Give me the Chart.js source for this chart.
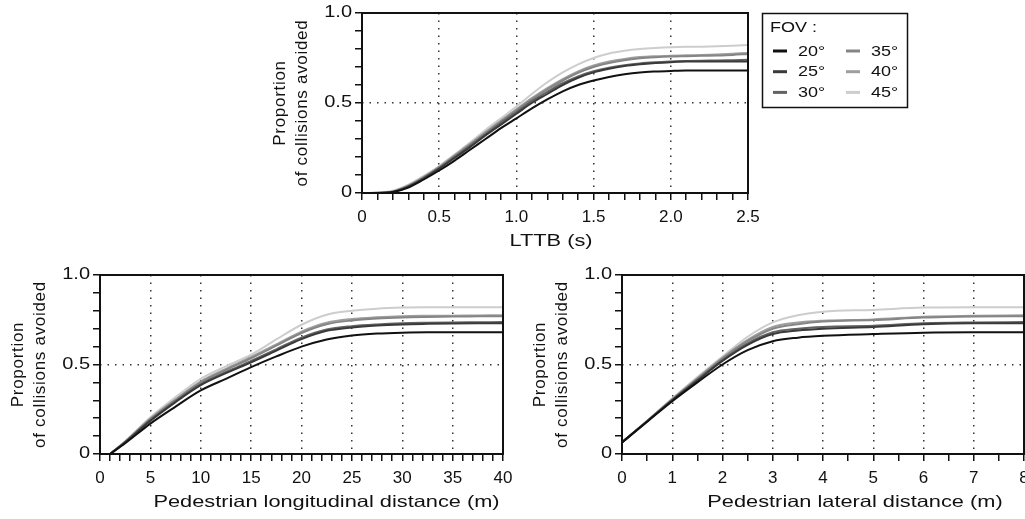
<!DOCTYPE html>
<html>
<head>
<meta charset="utf-8">
<script src="https://cdn.jsdelivr.net/npm/chart.js@4.4.1/dist/chart.umd.min.js"></script>
<style>
  html, body { margin: 0; padding: 0; background: #fff; overflow: hidden; width: 1025px; height: 519px; }
  canvas { position: absolute; left: 0; top: 0; }
</style>
</head>
<body>
<canvas id="lttb-chart" width="1025" height="519"></canvas>
<canvas id="lon-chart" width="1025" height="519"></canvas>
<canvas id="lat-chart" width="1100" height="519"></canvas>
<script>
// FOV series labels
const fovLabels = ["20°", "25°", "30°", "35°", "40°", "45°"];
const legendTitle = "FOV :";
const yTitle = ["Proportion", "of collisions avoided"];

// LTTB (s)
const lttbX = [0, 0.1, 0.2, 0.3, 0.4, 0.5, 0.6, 0.7, 0.8, 0.9, 1.0, 1.1, 1.2, 1.3, 1.4, 1.5, 1.6, 1.7, 1.8, 1.9, 2.0, 2.1, 2.2, 2.3, 2.4, 2.5];
const lttb20 = [0, 0, 0.005, 0.03, 0.075, 0.125, 0.18, 0.24, 0.30, 0.36, 0.415, 0.47, 0.52, 0.565, 0.60, 0.625, 0.645, 0.66, 0.67, 0.675, 0.678, 0.68, 0.68, 0.68, 0.68, 0.68];
const lttb25 = [0, 0, 0.005, 0.035, 0.08, 0.135, 0.195, 0.255, 0.32, 0.38, 0.44, 0.50, 0.55, 0.60, 0.64, 0.67, 0.69, 0.705, 0.715, 0.722, 0.727, 0.73, 0.73, 0.73, 0.73, 0.73];
const lttb30 = [0, 0, 0.006, 0.037, 0.083, 0.138, 0.2, 0.262, 0.326, 0.39, 0.45, 0.51, 0.562, 0.61, 0.648, 0.676, 0.696, 0.71, 0.72, 0.726, 0.73, 0.733, 0.735, 0.736, 0.738, 0.74];
const lttb35 = [0, 0.001, 0.008, 0.04, 0.087, 0.142, 0.205, 0.268, 0.333, 0.397, 0.46, 0.52, 0.575, 0.625, 0.668, 0.70, 0.722, 0.738, 0.748, 0.754, 0.758, 0.76, 0.762, 0.764, 0.767, 0.772];
const lttb40 = [0, 0.001, 0.009, 0.042, 0.09, 0.146, 0.21, 0.273, 0.339, 0.403, 0.465, 0.527, 0.583, 0.633, 0.676, 0.708, 0.73, 0.745, 0.755, 0.76, 0.763, 0.765, 0.767, 0.77, 0.774, 0.778];
const lttb45 = [0, 0.002, 0.012, 0.046, 0.095, 0.15, 0.215, 0.28, 0.35, 0.415, 0.48, 0.55, 0.615, 0.67, 0.715, 0.75, 0.775, 0.79, 0.80, 0.806, 0.81, 0.812, 0.813, 0.815, 0.818, 0.822];

// Pedestrian longitudinal distance (m)
const lonX = [1, 2.5, 5, 7.5, 10, 12.5, 15, 17.5, 20, 22.5, 25, 27.5, 30, 32.5, 35, 37.5, 40];
const lon20 = [0, 0.06, 0.17, 0.265, 0.355, 0.42, 0.485, 0.545, 0.60, 0.64, 0.662, 0.673, 0.678, 0.68, 0.68, 0.68, 0.68];
const lon25 = [0, 0.065, 0.185, 0.29, 0.385, 0.452, 0.512, 0.578, 0.642, 0.688, 0.707, 0.718, 0.724, 0.727, 0.729, 0.73, 0.73];
const lon30 = [0, 0.066, 0.19, 0.295, 0.39, 0.458, 0.52, 0.585, 0.65, 0.695, 0.714, 0.724, 0.73, 0.733, 0.735, 0.736, 0.737];
const lon35 = [0, 0.068, 0.195, 0.302, 0.40, 0.47, 0.535, 0.605, 0.676, 0.725, 0.746, 0.757, 0.763, 0.766, 0.768, 0.769, 0.77];
const lon40 = [0, 0.069, 0.198, 0.306, 0.405, 0.476, 0.542, 0.612, 0.684, 0.733, 0.754, 0.764, 0.77, 0.772, 0.773, 0.774, 0.775];
const lon45 = [0, 0.072, 0.205, 0.318, 0.42, 0.49, 0.555, 0.64, 0.722, 0.778, 0.80, 0.812, 0.818, 0.82, 0.82, 0.82, 0.82];

// Pedestrian lateral distance (m)
const latX = [0, 0.5, 1, 1.5, 2, 2.5, 3, 3.5, 4, 5, 6, 7, 8];
const lat20 = [0.065, 0.18, 0.295, 0.40, 0.50, 0.58, 0.63, 0.65, 0.66, 0.67, 0.678, 0.68, 0.68];
const lat25 = [0.065, 0.182, 0.30, 0.41, 0.52, 0.61, 0.67, 0.69, 0.70, 0.71, 0.725, 0.73, 0.73];
const lat30 = [0.065, 0.183, 0.302, 0.414, 0.525, 0.618, 0.68, 0.70, 0.71, 0.716, 0.73, 0.735, 0.737];
const lat35 = [0.065, 0.184, 0.305, 0.42, 0.533, 0.63, 0.70, 0.725, 0.74, 0.748, 0.762, 0.768, 0.77];
const lat40 = [0.065, 0.185, 0.307, 0.423, 0.538, 0.638, 0.71, 0.735, 0.745, 0.752, 0.767, 0.772, 0.775];
const lat45 = [0.065, 0.186, 0.31, 0.43, 0.545, 0.655, 0.735, 0.775, 0.795, 0.805, 0.818, 0.82, 0.82];

const lineColors = ["#111111", "#3a3a3a", "#626262", "#858585", "#9e9e9e", "#cdcdcd"];
const ink = "#111111";
const fontFamily = '"Liberation Sans", Arial, sans-serif';

Chart.defaults.font.family = fontFamily;
Chart.defaults.font.size = 17;
Chart.defaults.color = ink;

function isMajor(v, step) {
  const r = v / step;
  return Math.abs(r - Math.round(r)) < 1e-6;
}

// the figure's lettering is set wide: stretch a scale's text horizontally about an anchor
function widenText(scale, method, sx, anchor, dx, spacing) {
  const key = "_wide_" + method;
  if (scale[key]) return;
  const orig = scale[method].bind(scale);
  scale[method] = function (...args) {
    const ax = anchor(this);
    this.ctx.save();
    if (spacing) this.ctx.letterSpacing = spacing;
    this.ctx.translate(ax + (dx || 0), 0);
    this.ctx.scale(sx, 1);
    this.ctx.translate(-ax, 0);
    orig(...args);
    this.ctx.restore();
  };
  scale[key] = true;
}

// closed frame round the plot area
const frameBox = {
  id: "frameBox",
  afterDraw(chart) {
    const { ctx, chartArea } = chart;
    ctx.save();
    ctx.strokeStyle = ink;
    ctx.lineWidth = 2;
    ctx.strokeRect(chartArea.left, chartArea.top, chartArea.right - chartArea.left, chartArea.bottom - chartArea.top);
    ctx.restore();
  },
};

function wideText(ctx, text, x, y, sx) {
  ctx.save();
  ctx.translate(x, y);
  ctx.scale(sx, 1);
  ctx.fillText(text, 0, 0);
  ctx.restore();
}

// boxed two-column legend next to the top chart
const fovLegend = {
  id: "fovLegend",
  afterDraw(chart) {
    const ctx = chart.ctx;
    ctx.save();
    ctx.strokeStyle = ink;
    ctx.lineWidth = 1.5;
    ctx.strokeRect(762.5, 13.5, 145, 94);
    ctx.font = "15px " + fontFamily;
    ctx.fillStyle = ink;
    ctx.textBaseline = "middle";
    wideText(ctx, legendTitle, 770, 28, 1.2);
    chart.data.datasets.forEach((ds, i) => {
      const col = Math.floor(i / 3);
      const row = i % 3;
      const x = 773 + col * 73;
      const y = 51 + row * 20.7;
      ctx.strokeStyle = ds.borderColor;
      ctx.lineWidth = 3;
      ctx.beginPath();
      ctx.moveTo(x, y);
      ctx.lineTo(x + 14, y);
      ctx.stroke();
      wideText(ctx, ds.label, x + 25, y + 0.5, 1.2);
    });
    ctx.restore();
  },
};

function makeChart(id, xs, series, xCfg, pad, extraPlugins) {
  const datasets = series.map((vals, i) => ({
    label: fovLabels[i],
    data: xs.map((x, j) => ({ x: x, y: vals[j] })),
    borderColor: lineColors[i],
    borderWidth: 2,
    pointRadius: 0,
    fill: false,
    cubicInterpolationMode: "monotone",
  }));
  return new Chart(document.getElementById(id), {
    type: "line",
    data: { datasets },
    plugins: [frameBox].concat(extraPlugins || []),
    options: {
      responsive: false,
      animation: false,
      events: [],
      layout: { padding: pad },
      plugins: { legend: { display: false }, tooltip: { enabled: false } },
      scales: {
        x: {
          type: "linear",
          min: xCfg.min,
          max: xCfg.max,
          afterFit(scale) {
            scale.height = 59;
            widenText(scale, "drawTitle", 1.32, (s) => (s.left + s.right) / 2, xCfg.titleShift);
          },
          border: { display: false, dash: [1.5, 6] },
          grid: {
            lineWidth: 1.5,
            tickLength: 7,
            tickWidth: 1.5,
            tickColor: ink,
            color: (c) => {
              const v = c.tick ? c.tick.value : null;
              if (v === null) return "rgba(0,0,0,0)";
              return isMajor(v, xCfg.major) && v > xCfg.min && v < xCfg.max ? "#333333" : "rgba(0,0,0,0)";
            },
          },
          ticks: {
            stepSize: xCfg.step,
            autoSkip: false,
            maxRotation: 0,
            padding: 7,
            color: ink,
            callback: (v) => (isMajor(v, xCfg.major) ? xCfg.fmt(v) : ""),
          },
          title: {
            display: true,
            text: xCfg.title,
            color: ink,
            font: { size: 16.5, lineHeight: "22px" },
            padding: 0,
          },
        },
        y: {
          min: 0,
          max: 1,
          afterFit(scale) {
            scale.width = 93;
            widenText(scale, "drawTitle", 1, (s) => s.left, 0, "0.7px");
            widenText(scale, "drawLabels", 1.25, (s) => s.right - 10, 0);
          },
          border: { display: false, dash: [1.5, 6] },
          grid: {
            lineWidth: 1.5,
            tickLength: 7,
            tickWidth: 1.5,
            tickColor: ink,
            color: (c) => (c.tick && Math.abs(c.tick.value - 0.5) < 1e-6 ? "#333333" : "rgba(0,0,0,0)"),
          },
          ticks: {
            stepSize: 0.1,
            autoSkip: false,
            padding: 3,
            color: ink,
            font: { size: 16 },
            callback: (v) => (Math.abs(v) < 1e-6 ? "0" : isMajor(v, 0.5) ? v.toFixed(1) : ""),
          },
          title: {
            display: true,
            text: yTitle,
            color: ink,
            font: { size: 17, lineHeight: "22px" },
            padding: 0,
          },
        },
      },
    },
  });
}

makeChart(
  "lttb-chart",
  lttbX,
  [lttb20, lttb25, lttb30, lttb35, lttb40, lttb45],
  { min: 0, max: 2.5, step: 0.1, major: 0.5, title: "LTTB (s)", titleShift: -4, fmt: (v) => (Math.abs(v) < 1e-6 ? "0" : v.toFixed(1)) },
  { left: 269, top: 13, right: 277, bottom: 267 },
  [fovLegend]
);

makeChart(
  "lon-chart",
  lonX,
  [lon20, lon25, lon30, lon35, lon40, lon45],
  { min: 0, max: 40, step: 1, major: 5, title: "Pedestrian longitudinal distance (m)", titleShift: 25, fmt: (v) => String(Math.round(v)) },
  { left: 7, top: 275, right: 522, bottom: 6 }
);

makeChart(
  "lat-chart",
  latX,
  [lat20, lat25, lat30, lat35, lat40, lat45],
  { min: 0, max: 8, step: 0.5, major: 1, title: "Pedestrian lateral distance (m)", titleShift: 32, fmt: (v) => String(Math.round(v)) },
  { left: 529, top: 275, right: 76, bottom: 6 }
);
</script>
</body>
</html>
